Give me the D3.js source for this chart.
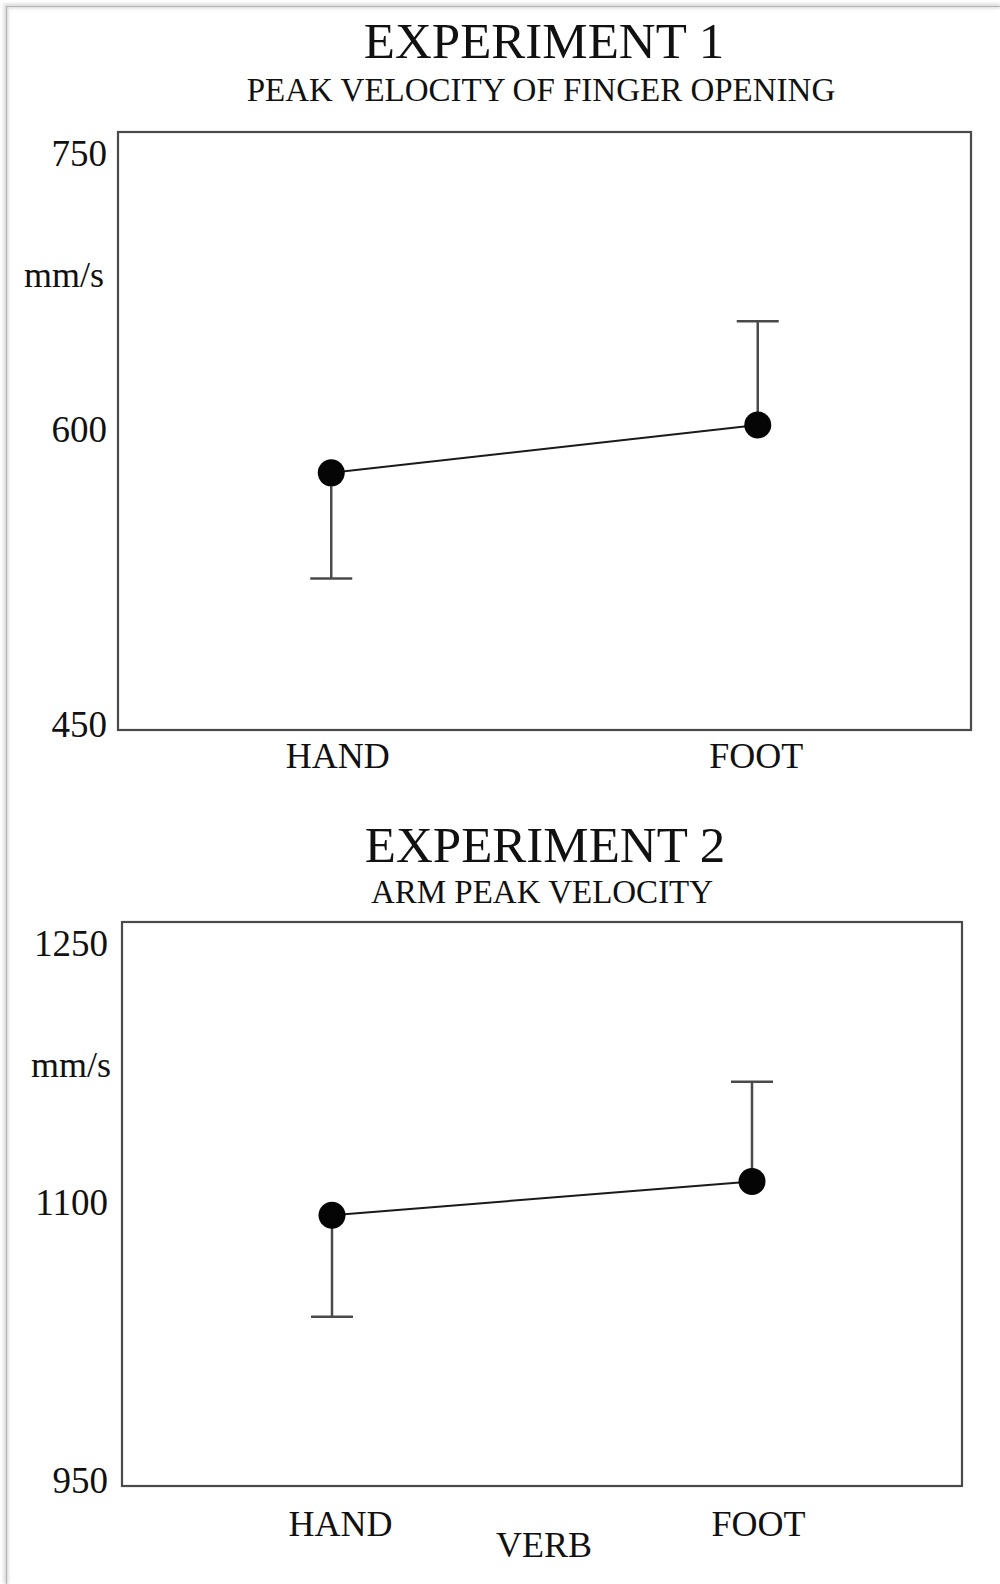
<!DOCTYPE html>
<html>
<head>
<meta charset="utf-8">
<script src="https://cdn.jsdelivr.net/npm/d3@7"></script>
<style>
  html, body { margin: 0; padding: 0; background: #fff; }
  svg { display: block; }
  text { font-family: "Liberation Serif", "Times New Roman", Times, serif; fill: #111; }
</style>
</head>
<body>
<svg id="chart" width="1000" height="1584"></svg>
<script>
// ---- data ----
const categories = ["HAND", "FOOT"];

const exp1Title = "EXPERIMENT 1";
const exp1Subtitle = "PEAK VELOCITY OF FINGER OPENING";
const exp1Means = [579, 603];
const exp1ErrEnds = [526, 655];
const exp1Ticks = [450, 600, 750];

const exp2Title = "EXPERIMENT 2";
const exp2Subtitle = "ARM PEAK VELOCITY";
const exp2Means = [1094, 1112];
const exp2ErrEnds = [1040, 1165];
const exp2Ticks = [950, 1100, 1250];

const unitLabel = "mm/s";
const xTitle = "VERB";

// ---- drawing ----
const svg = d3.select("#chart");

// page frame with soft shadow
const defs = svg.append("defs");
const f = defs.append("filter").attr("id", "blur").attr("x", "-5%").attr("y", "-5%").attr("width", "110%").attr("height", "110%");
f.append("feGaussianBlur").attr("stdDeviation", 1.5);
svg.append("path").attr("d", "M6,1584 V6 H1000").attr("fill", "none")
  .attr("stroke", "#ddd").attr("stroke-width", 5).attr("filter", "url(#blur)");
svg.append("path").attr("d", "M6.5,1584 V6.5 H1000").attr("fill", "none")
  .attr("stroke", "#b5b5b5").attr("stroke-width", 1.2);

function panel(cfg) {
  const { left, right, top, bottom } = cfg.box;
  const g = svg.append("g");

  const x = d3.scalePoint().domain(categories).range([left, right]).padding(0.5);
  const y = d3.scaleLinear().domain(d3.extent(cfg.ticks)).range([bottom, top]);

  // titles
  g.append("text").attr("x", cfg.titleX).attr("y", cfg.titleY)
    .attr("text-anchor", "middle").attr("font-size", 51).text(cfg.title);
  g.append("text").attr("x", cfg.titleX - 3).attr("y", cfg.subY)
    .attr("text-anchor", "middle").attr("font-size", 33).text(cfg.subtitle);

  // box
  g.append("rect").attr("x", left).attr("y", top)
    .attr("width", right - left).attr("height", bottom - top)
    .attr("fill", "none").attr("stroke", "#4a4a4a").attr("stroke-width", 2.2);

  // y axis labels
  const yAxis = d3.axisLeft(y).tickValues(cfg.ticks).tickSize(0).tickPadding(cfg.tickPad)
    .tickFormat(d3.format("d"));
  const ya = g.append("g").attr("transform", `translate(${left},0)`).call(yAxis);
  ya.select(".domain").remove();
  const [lo, hi] = d3.extent(cfg.ticks);
  ya.selectAll(".tick text")
    .attr("font-size", 37).attr("fill", "#111")
    .attr("font-family", '"Liberation Serif", "Times New Roman", serif')
    .attr("dy", d => d === hi ? "0.9em" : (d === lo ? "0.17em" : "0.28em"));

  // unit label
  g.append("text").attr("x", left - cfg.unitPad).attr("y", top + 155)
    .attr("text-anchor", "end").attr("font-size", 36).text(unitLabel);

  // x axis labels
  const xAxis = d3.axisBottom(x).tickSize(0).tickPadding(cfg.xPad);
  const xa = g.append("g").attr("transform", `translate(0,${bottom})`).call(xAxis);
  xa.select(".domain").remove();
  xa.selectAll(".tick text")
    .attr("font-size", 36).attr("fill", "#111")
    .attr("font-family", '"Liberation Serif", "Times New Roman", serif')
    .attr("dx", (d, i) => cfg.xShift[i]);

  // error bars (one-sided)
  const capW = 21;
  categories.forEach((c, i) => {
    const cx = x(c);
    g.append("line").attr("x1", cx).attr("x2", cx)
      .attr("y1", y(cfg.means[i])).attr("y2", y(cfg.errEnds[i]))
      .attr("stroke", "#4a4a4a").attr("stroke-width", 2.5);
    g.append("line").attr("x1", cx - capW).attr("x2", cx + capW)
      .attr("y1", y(cfg.errEnds[i])).attr("y2", y(cfg.errEnds[i]))
      .attr("stroke", "#4a4a4a").attr("stroke-width", 2.5);
  });

  // connecting line
  const line = d3.line().x((d, i) => x(categories[i])).y(d => y(d));
  g.append("path").attr("d", line(cfg.means)).attr("fill", "none")
    .attr("stroke", "#1a1a1a").attr("stroke-width", 2);

  // points
  g.selectAll("circle.pt").data(cfg.means).enter().append("circle")
    .attr("class", "pt")
    .attr("cx", (d, i) => x(categories[i])).attr("cy", d => y(d))
    .attr("r", 13.5).attr("fill", "#050505");

  return { x, y };
}

panel({
  box: { left: 118, right: 971, top: 132, bottom: 730 },
  ticks: exp1Ticks, means: exp1Means, errEnds: exp1ErrEnds,
  title: exp1Title, subtitle: exp1Subtitle,
  titleX: 544, titleY: 58, subY: 101,
  tickPad: 11, unitPad: 14, xPad: 12, xShift: [6, -2]
});

panel({
  box: { left: 122, right: 962, top: 922, bottom: 1486 },
  ticks: exp2Ticks, means: exp2Means, errEnds: exp2ErrEnds,
  title: exp2Title, subtitle: exp2Subtitle,
  titleX: 545, titleY: 862, subY: 903,
  tickPad: 14, unitPad: 11, xPad: 24, xShift: [8, 6]
});

svg.append("text").attr("x", 544).attr("y", 1557)
  .attr("text-anchor", "middle").attr("font-size", 36).text(xTitle);
</script>
</body>
</html>
